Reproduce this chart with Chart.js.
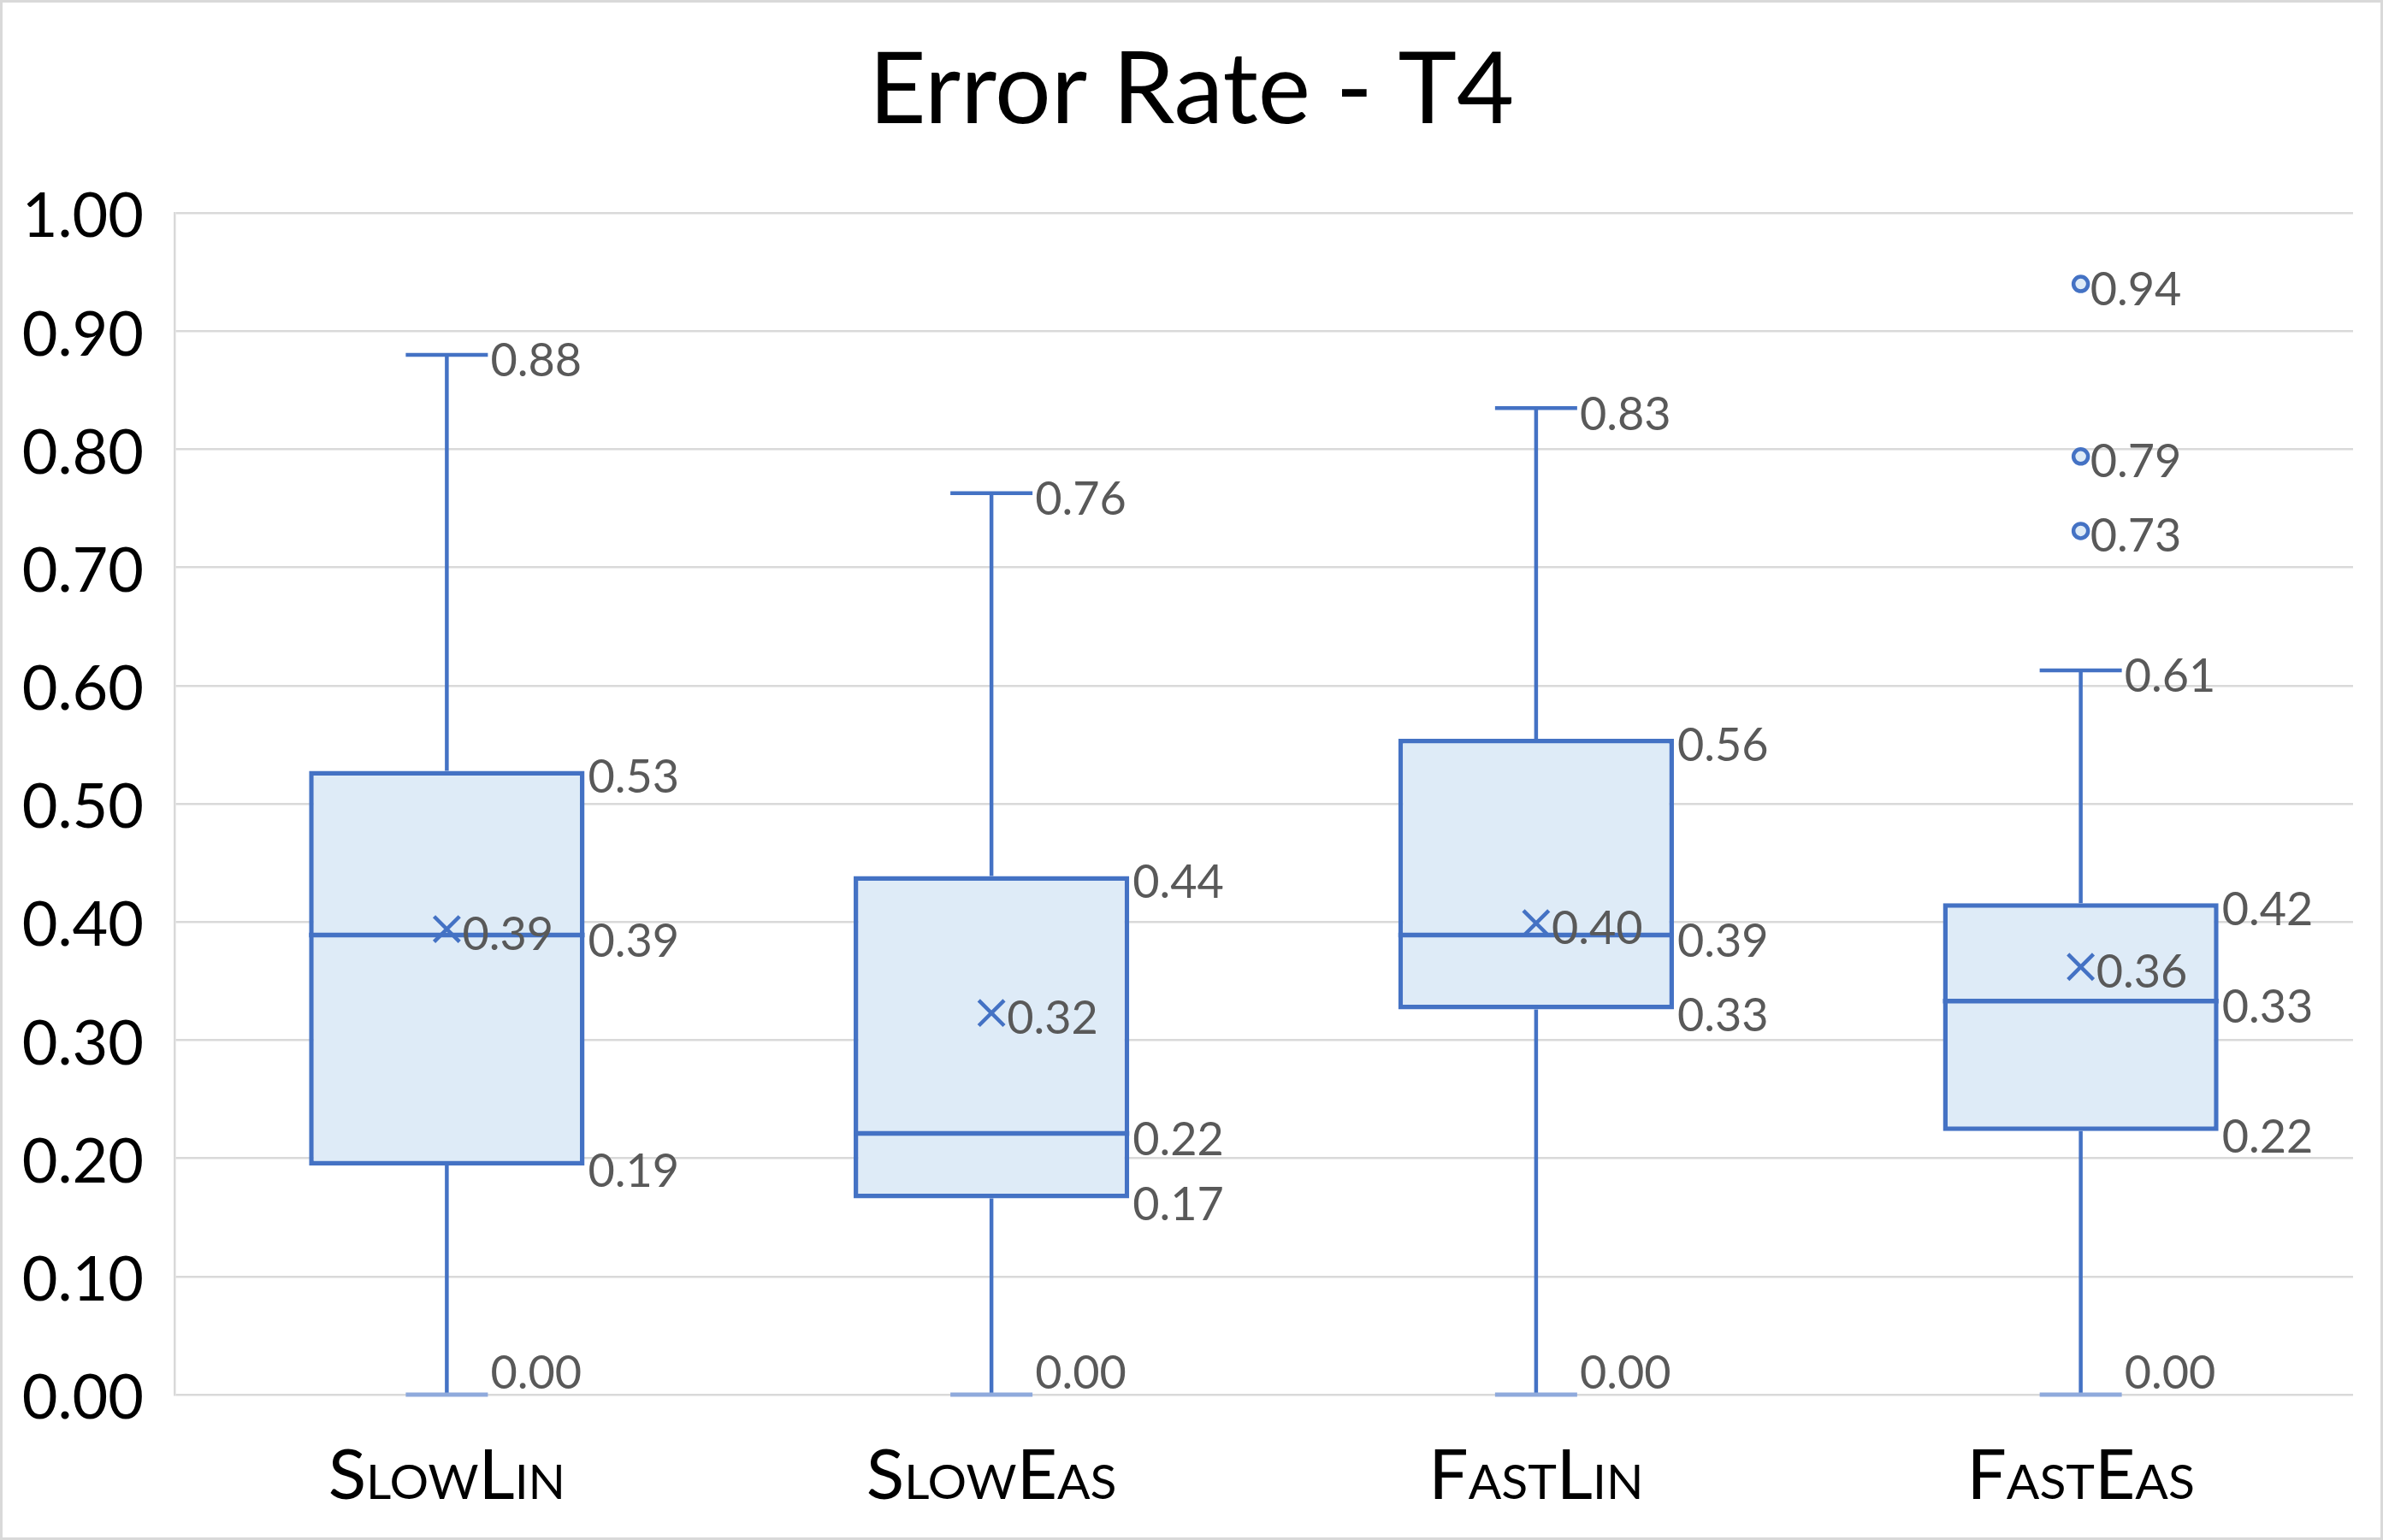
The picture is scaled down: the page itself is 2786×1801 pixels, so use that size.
<!DOCTYPE html>
<html>
<head>
<meta charset="utf-8">
<script src="https://cdn.jsdelivr.net/npm/chart.js@4.4.1/dist/chart.umd.min.js"></script>
<style>
  html, body { margin: 0; padding: 0; background: #fff; }
  canvas { display: block; }
</style>
</head>
<body>
<canvas id="grafico" width="2786" height="1801"></canvas>
<script>
// dados
var categorias = ['SlowLin', 'SlowEas', 'FastLin', 'FastEas']
var minimos   = [0.00, 0.00, 0.00, 0.00]
var quartil1  = [0.194, 0.166, 0.326, 0.223]
var medianas  = [0.389, 0.221, 0.389, 0.333]
var quartil3  = [0.528, 0.439, 0.555, 0.416]
var maximos   = [0.880, 0.763, 0.835, 0.613]
var medias    = [0.394, 0.323, 0.399, 0.362]
var outliersCat = ['FastEas', 'FastEas', 'FastEas']
var outliersVal = [0.940, 0.794, 0.731]
var ticksY = [0, 0.1, 0.2, 0.3, 0.4, 0.5, 0.6, 0.7, 0.8, 0.9, 1.0]

var azul = '#4472C4'
var azulClaro = '#DEEBF7'
var cinzaTexto = '#595959'
var fonte = 'Lato, "Open Sans", sans-serif'

var caixas = []
for (var i = 0; i < categorias.length; i++) {
    caixas.push([quartil1[i], quartil3[i]])
}
var pontosOutlier = []
outliersCat.forEach(function(c, i){
    pontosOutlier.push({x: c, y: outliersVal[i]})
})

function fmt(v){ return v.toFixed(2) }

var fundo = {
    id: 'fundo',
    beforeDraw: function(chart){
        var c = chart.ctx
        c.save()
        c.fillStyle = '#fff'
        c.fillRect(0, 0, chart.width, chart.height)
        c.strokeStyle = '#D9D9D9'
        c.lineWidth = 3
        c.strokeRect(1.5, 1.5, chart.width - 3, chart.height - 3)
        c.restore()
    }
}

var boxplot = {
    id: 'boxplot',
    afterDatasetsDraw: function(chart){
        var c = chart.ctx
        var x = chart.scales.x
        var y = chart.scales.y
        var barras = chart.getDatasetMeta(0).data
        var capa = 48
        c.save()
        c.strokeStyle = azul
        categorias.forEach(function(cat, i){
            var cx = x.getPixelForValue(i)
            var meia = barras[i].width / 2
            var yMin = y.getPixelForValue(minimos[i])
            var yQ1 = y.getPixelForValue(quartil1[i])
            var yMed = y.getPixelForValue(medianas[i])
            var yQ3 = y.getPixelForValue(quartil3[i])
            var yMax = y.getPixelForValue(maximos[i])

            // bigodes
            c.lineWidth = 4.5
            c.beginPath()
            c.moveTo(cx, yQ3); c.lineTo(cx, yMax)
            c.moveTo(cx - capa, yMax); c.lineTo(cx + capa, yMax)
            c.moveTo(cx, yQ1); c.lineTo(cx, yMin)
            c.stroke()
            c.strokeStyle = '#8FAADC'
            c.lineWidth = 5
            c.beginPath()
            c.moveTo(cx - capa, yMin); c.lineTo(cx + capa, yMin)
            c.stroke()
            c.strokeStyle = azul

            // mediana
            c.lineWidth = 5.5
            c.beginPath()
            c.moveTo(cx - meia, yMed); c.lineTo(cx + meia, yMed)
            c.stroke()

            // rotulos
            c.fillStyle = cinzaTexto
            c.font = '54px ' + fonte
            c.textAlign = 'left'
            c.textBaseline = 'middle'
            c.fillText(fmt(maximos[i]), cx + capa + 3, yMax + 8)
            c.fillText(fmt(quartil3[i]), cx + meia + 4, yQ3 + 8)
            c.fillText(fmt(medianas[i]), cx + meia + 4, yMed + 8)
            c.fillText(fmt(quartil1[i]), cx + meia + 4, yQ1 + 8)
            c.fillText(fmt(minimos[i]), cx + capa + 3, yMin - 24)
            c.fillText(fmt(medias[i]), cx + 18, y.getPixelForValue(medias[i]) + 7)
        })
        outliersCat.forEach(function(cat, i){
            var cx = x.getPixelForValue(categorias.indexOf(cat))
            c.fillText(fmt(outliersVal[i]), cx + 11, y.getPixelForValue(outliersVal[i]) + 7)
        })
        c.restore()
    }
}

var chart = new Chart(document.getElementById('grafico').getContext('2d'), {
    data: {
        labels: categorias,
        datasets: [{
            type: 'bar',
            data: caixas,
            backgroundColor: azulClaro,
            borderColor: azul,
            borderWidth: 5.5,
            borderSkipped: false,
            barPercentage: 0.506,
            categoryPercentage: 1,
            order: 3
        }, {
            type: 'line',
            data: medias,
            showLine: false,
            pointStyle: 'crossRot',
            pointRadius: 21,
            pointBorderWidth: 4.5,
            pointBorderColor: azul,
            order: 2
        }, {
            type: 'line',
            data: pontosOutlier,
            showLine: false,
            pointStyle: 'circle',
            pointRadius: 8.5,
            pointBorderWidth: 4.5,
            pointBorderColor: azul,
            pointBackgroundColor: azulClaro,
            order: 1
        }]
    },
    options: {
        responsive: false,
        devicePixelRatio: 1,
        animation: false,
        layout: { padding: 0 },
        plugins: {
            legend: { display: false },
            tooltip: { enabled: false },
            title: {
                display: true,
                text: 'Error Rate - T4',
                color: '#000',
                font: { family: fonte, size: 116, weight: 'normal', lineHeight: 1.2 },
                padding: { top: 37, bottom: 73 }
            }
        },
        scales: {
            x: {
                offset: true,
                grid: { display: false },
                border: { display: false },
                ticks: {
                    color: '#000',
                    padding: 38,
                    font: { family: fonte, size: 82, weight: 'small-caps', lineHeight: 1.2 }
                },
                afterFit: function(s){ s.height = 170 }
            },
            y: {
                min: 0,
                max: 1,
                afterBuildTicks: function(s){
                    s.ticks = ticksY.map(function(v){ return {value: v} })
                },
                grid: { color: '#D9D9D9', lineWidth: 2.5, drawTicks: false },
                border: { display: true, color: '#D9D9D9', width: 2.5 },
                ticks: {
                    color: '#000',
                    padding: 36,
                    labelOffset: 5,
                    font: { family: fonte, size: 72, lineHeight: 1.2 },
                    callback: function(v){ return Number(v).toFixed(2) }
                },
                afterFit: function(s){ s.width = 204 }
            },
            margemDireita: {
                position: 'right',
                display: true,
                min: 0,
                max: 1,
                grid: { display: false },
                border: { display: false },
                ticks: { display: false },
                afterFit: function(s){ s.width = 35 }
            }
        }
    },
    plugins: [fundo, boxplot]
})
</script>
</body>
</html>
